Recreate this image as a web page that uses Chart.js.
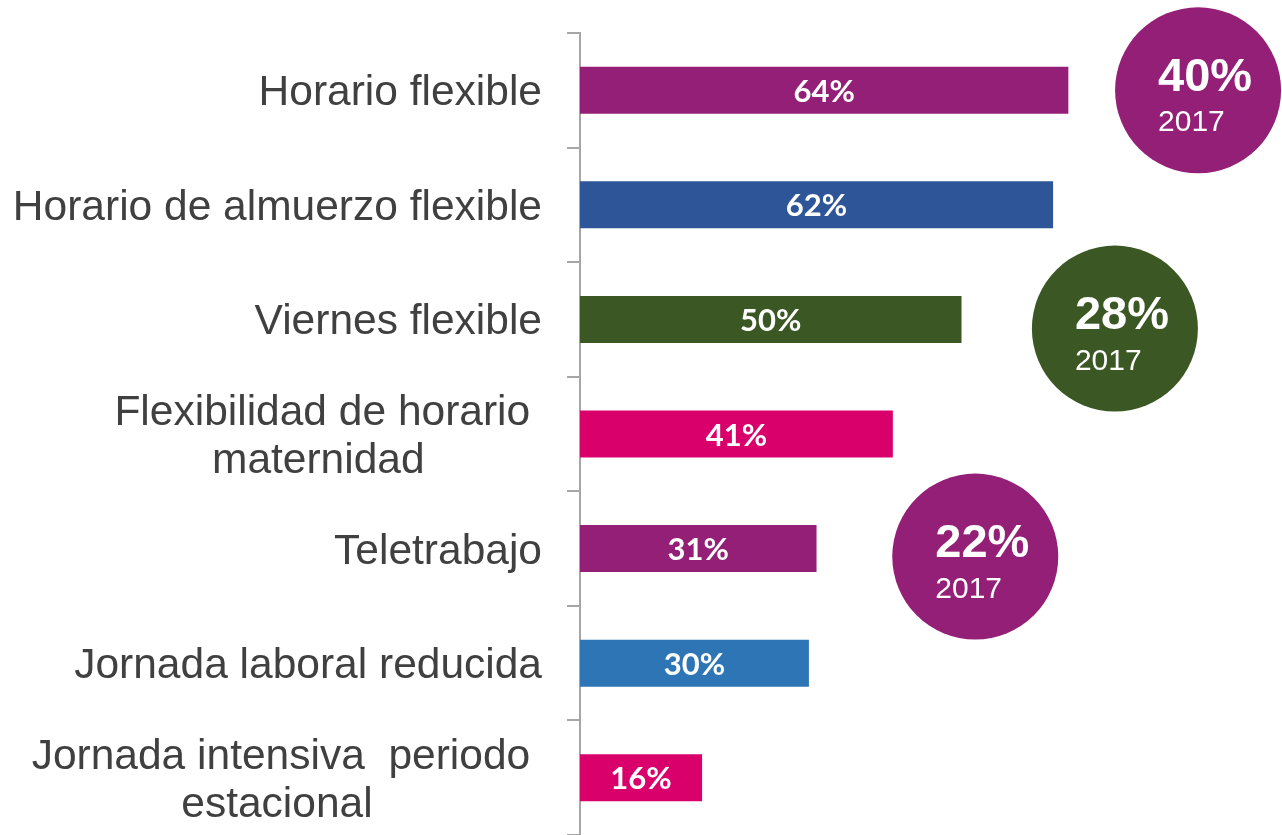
<!DOCTYPE html>
<html lang="es">
<head>
<meta charset="utf-8">
<title>Flexibilidad laboral</title>
<script src="https://cdn.jsdelivr.net/npm/chart.js@4.4.1/dist/chart.umd.min.js"></script>
<style>
  html, body { margin: 0; padding: 0; background: #fff; }
  #wrap { width: 1282px; height: 835px; position: relative; }
</style>
</head>
<body>
<div id="wrap"><canvas id="chart"></canvas></div>
<script>
/* global Chart */
// Categories (multi-line labels keep their trailing spaces, as in the source slide).
const categories = [
  ["Horario flexible"],
  ["Horario de almuerzo flexible"],
  ["Viernes flexible"],
  ["Flexibilidad de horario ", "maternidad"],
  ["Teletrabajo"],
  ["Jornada laboral reducida"],
  ["Jornada intensiva  periodo ", "estacional"],
];
const values = [64, 62, 50, 41, 31, 30, 16];
const barColors = ["#932076", "#2E5597", "#3B5724", "#DA006C", "#932076", "#2E75B6", "#DA006C"];

// 2017 comparison bubbles: value, year, anchor (x in %, y in category index).
const bubbleLabels = ["40%", "28%", "22%"];
const bubbleYears = ["2017", "2017", "2017"];
const bubbleX = [81, 70.1, 51.8];
const bubbleY = [0, 2.08, 4.07];
const bubbleColors = ["#932076", "#3B5724", "#932076"];

const AXIS = "#A6A6A6";
const TEXT = "#404040";
const LABEL_FONT = '42.5px "Liberation Sans", Arial, sans-serif';

// Category labels: box right-aligned next to the axis, lines centered inside it.
const categoryLabels = {
  id: "categoryLabels",
  afterDraw(chart) {
    const { ctx } = chart;
    const y = chart.scales.y;
    const right = 542;
    const lineH = 48;
    ctx.save();
    ctx.font = LABEL_FONT;
    ctx.fillStyle = TEXT;
    ctx.textBaseline = "alphabetic";
    ctx.textAlign = "center";
    categories.forEach((lines, i) => {
      const cy = y.getPixelForValue(i);
      const top = cy - ((lines.length - 1) * lineH) / 2;
      if (lines.length === 1) {
        ctx.textAlign = "right";
        ctx.fillText(lines[0], right, top + 15);
        return;
      }
      // the trailing space pushes the widest line off the axis; center on the visible text
      const widest = lines.reduce((a, b) => (ctx.measureText(a).width >= ctx.measureText(b).width ? a : b));
      const boxRight = right - (ctx.measureText(widest).width - ctx.measureText(widest.trimEnd()).width);
      const cx = boxRight - ctx.measureText(widest.trimEnd()).width / 2;
      ctx.textAlign = "center";
      lines.forEach((line, j) => {
        const t = line.trimEnd();
        const x = j === 0 ? cx : cx - 4;
        ctx.fillText(t, x, top + j * lineH + 15);
      });
    });
    ctx.restore();
  },
};

// Value labels in the bars and texts in the bubbles.
const markLabels = {
  id: "markLabels",
  afterDatasetsDraw(chart) {
    const { ctx } = chart;
    ctx.save();
    ctx.fillStyle = "#fff";
    ctx.textBaseline = "alphabetic";

    ctx.font = 'bold 31px Lato, "Open Sans", sans-serif';
    ctx.textAlign = "center";
    chart.getDatasetMeta(0).data.forEach((bar, i) => {
      ctx.fillText(values[i] + "%", (bar.x + bar.base) / 2, bar.y + 11.5);
    });

    ctx.textAlign = "left";
    chart.getDatasetMeta(1).data.forEach((pt, i) => {
      ctx.font = 'bold 47px "Liberation Sans", Arial, sans-serif';
      ctx.fillText(bubbleLabels[i], pt.x - 40, pt.y + 0.5);
      ctx.font = '30px "Liberation Sans", Arial, sans-serif';
      ctx.fillText(bubbleYears[i], pt.x - 40, pt.y + 41);
    });
    ctx.restore();
  },
};

new Chart(document.getElementById("chart"), {
  data: {
    labels: categories.map((c) => c.join(" ")),
    datasets: [
      {
        type: "bar",
        indexAxis: "y",
        data: values,
        backgroundColor: barColors,
        barPercentage: 0.41,
        categoryPercentage: 1,
        xAxisID: "x",
        yAxisID: "y",
      },
      {
        type: "bubble",
        data: bubbleX.map((x, i) => ({ x, y: bubbleY[i] })),
        backgroundColor: bubbleColors,
        borderWidth: 0,
        radius: 83,
        clip: false,
        xAxisID: "x",
        yAxisID: "y2",
      },
    ],
  },
  options: {
    responsive: true,
    maintainAspectRatio: false,
    animation: false,
    events: [],
    // bubbles may overflow the chart area; keep the axes where they are
    layout: { autoPadding: false, padding: { top: 33, right: 0, bottom: 0, left: 0 } },
    plugins: { legend: { display: false }, tooltip: { enabled: false } },
    scales: {
      x: { type: "linear", display: false, min: 0, max: 92 },
      y: {
        type: "category",
        position: "left",
        offset: true,
        ticks: { display: false },
        grid: { offset: true, drawOnChartArea: false, color: AXIS, lineWidth: 2, tickLength: 13 },
        border: { color: AXIS, width: 2 },
        afterFit: (scale) => { scale.width = 580; },
      },
      y2: { type: "linear", display: false, min: -0.5, max: 6.5, reverse: true },
    },
  },
  plugins: [categoryLabels, markLabels],
});
</script>
</body>
</html>
